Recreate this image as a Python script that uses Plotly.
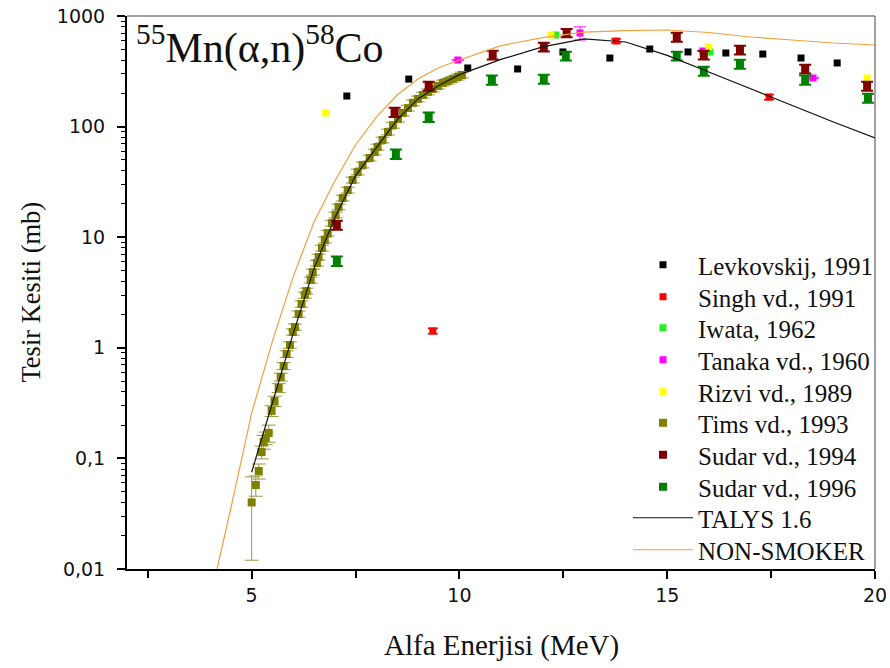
import plotly.graph_objects as go

# ---------------- data ----------------
lev_e = [7.29, 8.78, 10.20, 11.40, 12.49, 13.62, 14.58, 15.50, 16.41, 17.30, 18.22, 19.09]
lev_v = [189, 269, 339, 332, 473, 417, 503, 473, 463, 453, 417, 376]

singh_e = [9.36, 13.77, 17.45]
singh_v = [1.42, 594, 185]
singh_err = [0.08, 25, 10]

iwata_e = [12.32, 16.03]
iwata_v = [673, 473]

tanaka_e = [9.96, 12.90, 15.86, 18.51]
tanaka_v = [400, 702, 483, 275]
tanaka_err = [0, 95, 0, 0]

rizvi_e = [6.78, 12.20, 16.00, 19.81]
rizvi_v = [133, 673, 525, 275]

tims_e = [5.00, 5.10, 5.17, 5.24, 5.29, 5.34, 5.41, 5.48, 5.55, 5.65,
          5.70, 5.77, 5.84, 5.92, 5.99, 6.04, 6.13, 6.20, 6.28, 6.32,
          6.42, 6.47, 6.57, 6.61, 6.69, 6.76, 6.83, 6.93, 7.02, 7.09,
          7.19, 7.31, 7.43, 7.55, 7.67, 7.84, 7.96, 8.03, 8.15, 8.28,
          8.40, 8.52, 8.64, 8.76, 8.88, 9.00, 9.12, 9.24, 9.36, 9.48,
          9.60, 9.72, 9.84, 9.96, 10.06]
tims_v = [0.040, 0.0575, 0.077, 0.114, 0.141, 0.153, 0.170, 0.269, 0.330, 0.434,
          0.545, 0.684, 0.879, 1.06, 1.39, 1.54, 2.02, 2.49, 3.00, 3.26,
          4.10, 4.84, 5.84, 6.62, 7.98, 9.44, 10.9, 13.4, 15.9, 18.8,
          22.6, 26.7, 32.9, 38.9, 45.0, 52.0, 58.9, 65.4, 75.7, 89.4,
          103, 117, 133, 147, 164, 178, 193, 206, 219, 233,
          248, 258, 269, 281, 293]
tims_err = [0.028, 0.012, 0.012, 0.015, 0.02, 0.02, 0.03, 0.03, 0.035, 0.04,
            0.045, 0.05, 0.06, 0.07, 0.09, 0.1, 0.13, 0.16, 0.19, 0.2,
            0.25, 0.3, 0.35, 0.4, 0.48, 0.56, 0.65, 0.8, 0.95, 1.1,
            1.35, 1.6, 2.0, 2.3, 2.7, 3.1, 3.5, 3.9, 4.5, 5.4,
            6.2, 7.0, 8.0, 8.8, 9.8, 10.7, 11.6, 12.4, 13.1, 14.0,
            14.9, 15.5, 16.1, 16.9, 17.6]

s94_e = [7.05, 8.44, 9.26, 10.80, 12.03, 12.58, 15.23, 15.88, 16.75, 18.32, 19.81]
s94_v = [12.9, 135, 233, 444, 525, 702, 646, 444, 493, 332, 233]
s94_err = [1.2, 13, 22, 40, 48, 60, 60, 40, 45, 30, 22]

s96_e = [7.05, 8.47, 9.26, 10.78, 12.03, 12.56, 15.23, 15.88, 16.75, 18.32, 19.83]
s96_v = [6.1, 56.5, 122, 264, 269, 435, 435, 318, 368, 264, 181]
s96_err = [0.6, 5.5, 12, 25, 25, 40, 40, 30, 35, 25, 17]

talys_e = [5.0, 5.5, 6.0, 6.5, 7.0, 7.5, 8.0, 8.5, 9.0, 9.5, 10, 11, 12, 13, 14, 15, 16, 17, 18, 19, 20]
talys_v = [0.075, 0.32, 1.35, 5.2, 15, 36, 64, 115, 178, 235, 295, 405, 525, 620, 582, 440, 312, 220, 157, 110, 79]

ns_e = [4.0, 4.5, 5.0, 5.5, 6.0, 6.5, 7.0, 7.5, 8.0, 8.5, 9.0, 9.5, 10, 11, 12, 13, 14, 15, 16, 17, 18, 19, 20]
ns_v = [0.0053, 0.0356, 0.257, 1.15, 4.4, 13.7, 32.2, 68.2, 122, 193, 269, 341, 400, 540, 637, 716, 739, 747, 709, 646, 607, 570, 547]

y_tickvals = [0.01, 0.1, 1, 10, 100, 1000]
y_ticktext = ["0,01", "0,1", "1", "10", "100", "1000"]
x_tickvals = [5, 10, 15, 20]

SERIF = "Liberation Serif, Times New Roman, serif"
SANS = "DejaVu Sans, Arial, sans-serif"

# ---------------- layout geometry (pixels) ----------------
W, H = 890, 668
ML, MR, MT, MB = 127, 15, 16, 99
PW, PH = W - ML - MR, H - MT - MB
LEG_X_PX = 628
LEG_Y_PX = [265, 297, 328, 360, 392, 423, 455, 487, 518, 550]


def px_to_paper_x(px):
    return (px - ML) / PW


def px_to_paper_y(py):
    return (H - MB - py) / PH


fig = go.Figure()
_count = [0]


def legend_id():
    _count[0] += 1
    return "legend" if _count[0] == 1 else "legend%d" % _count[0]


def pts(name, x, y, color, err=None, errcolor=None, size=7, thick=2, capw=6):
    kw = {}
    if err is not None:
        kw["error_y"] = dict(type="data", array=err, visible=True,
                             color=errcolor or color, thickness=thick, width=capw)
    fig.add_trace(go.Scatter(x=x, y=y, mode="markers", name=name, legend=legend_id(),
                             marker=dict(symbol="square", size=size, color=color,
                                         line=dict(width=0)), **kw))


pts("Levkovskij, 1991", lev_e, lev_v, "#000000")
pts("Singh vd., 1991", singh_e, singh_v, "#FF0000", singh_err, thick=1.5, capw=5)
pts("Iwata, 1962", iwata_e, iwata_v, "#22EE22")
pts("Tanaka vd., 1960", tanaka_e, tanaka_v, "#FF00FF", tanaka_err, thick=1, capw=6)
pts("Rizvi vd., 1989", rizvi_e, rizvi_v, "#FFFF00")
pts("Tims vd., 1993", tims_e, tims_v, "#808000", tims_err, errcolor="#999944", thick=1, capw=7, size=8)
pts("Sudar vd., 1994", s94_e, s94_v, "#800000", s94_err, thick=2, capw=6, size=8)
pts("Sudar vd., 1996", s96_e, s96_v, "#008000", s96_err, thick=2, capw=6, size=8)

fig.add_trace(go.Scatter(x=talys_e, y=talys_v, mode="lines", name="TALYS 1.6", legend=legend_id(),
                         line=dict(color="#111111", width=1.2)))
fig.add_trace(go.Scatter(x=ns_e, y=ns_v, mode="lines", name="NON-SMOKER", legend=legend_id(),
                         line=dict(color="#F0A040", width=1.2)))

legends = {}
for i, ypx in enumerate(LEG_Y_PX):
    key = "legend" if i == 0 else "legend%d" % (i + 1)
    legends[key] = dict(x=px_to_paper_x(LEG_X_PX), y=px_to_paper_y(ypx),
                        xanchor="left", yanchor="middle",
                        bgcolor="rgba(0,0,0,0)", borderwidth=0,
                        font=dict(family=SERIF, size=25, color="#111"),
                        itemwidth=60)

fig.update_layout(
    width=W, height=H,
    margin=dict(l=ML, r=MR, t=MT, b=MB, autoexpand=False),
    paper_bgcolor="white", plot_bgcolor="white",
    showlegend=True,
    annotations=[
        dict(text="<sup>55</sup>Mn(α,n)<sup>58</sup>Co", xref="paper", yref="paper",
             x=0.01, y=1.0, xanchor="left", yanchor="top", showarrow=False,
             font=dict(family=SERIF, size=42, color="#111")),
        dict(text="Alfa Enerjisi (MeV)", xref="paper", yref="paper",
             x=0.5, y=px_to_paper_y(645), xanchor="center", yanchor="middle", showarrow=False,
             font=dict(family=SERIF, size=29, color="#111")),
        dict(text="Tesir Kesiti (mb)", xref="paper", yref="paper", textangle=-90,
             x=px_to_paper_x(30), y=0.5, xanchor="center", yanchor="middle", showarrow=False,
             font=dict(family=SERIF, size=26.5, color="#111")),
    ],
    shapes=[dict(type="line", xref="paper", yref="paper", x0=0, x1=1, y0=1, y1=1,
                 line=dict(color="#444", width=1)),
            dict(type="line", xref="paper", yref="paper", x0=1, x1=1, y0=0, y1=1,
                 line=dict(color="#444", width=1))],
    **legends,
)

fig.update_xaxes(range=[2, 20], tickvals=x_tickvals, ticks="outside", ticklen=8, tickwidth=2,
                 tickcolor="black", showline=True, linecolor="black", linewidth=2,
                 showgrid=False, zeroline=False, automargin=False,
                 tickfont=dict(family=SANS, size=19, color="#111"),
                 minor=dict(tickvals=[2.5, 7.5, 12.5, 17.5], ticks="outside", ticklen=7,
                            tickwidth=2, tickcolor="black", showgrid=False))

fig.update_yaxes(type="log", range=[-2, 3], tickvals=y_tickvals, ticktext=y_ticktext,
                 ticks="outside", ticklen=8, tickwidth=2, tickcolor="black",
                 showline=True, linecolor="black", linewidth=2, showgrid=False, zeroline=False,
                 automargin=False,
                 tickfont=dict(family=SANS, size=19, color="#111"), ticklabelstandoff=8,
                 minor=dict(ticks="outside", ticklen=4, tickwidth=1, tickcolor="black",
                            dtick="D1", showgrid=False))

fig.write_html("out.html")
